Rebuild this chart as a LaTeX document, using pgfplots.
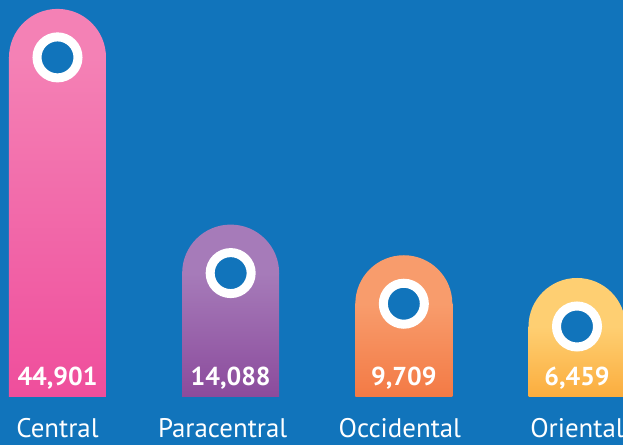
\documentclass[border=0pt]{standalone}
\usepackage{pgfplots}
\pgfplotsset{compat=1.18}
\usepackage{fontspec}
\setmainfont{PT Sans}

\definecolor{bg}{RGB}{17,116,187}
\definecolor{pinkT}{HTML}{F481B5}
\definecolor{pinkB}{HTML}{EF4E9C}
\definecolor{purpT}{HTML}{A67BB9}
\definecolor{purpB}{HTML}{8B4B9C}
\definecolor{orT}{HTML}{F89C6C}
\definecolor{orB}{HTML}{F37A45}
\definecolor{yelT}{HTML}{FECF72}
\definecolor{yelB}{HTML}{FBAD3E}

% upper half disc, filled only (the rounded top of each bar)
\pgfdeclareplotmark{topcap}{%
  \pgfpathmoveto{\pgfqpoint{\pgfplotmarksize}{-0.6pt}}%
  \pgfpathlineto{\pgfqpoint{\pgfplotmarksize}{0pt}}%
  \pgfpatharc{0}{180}{\pgfplotmarksize}%
  \pgfpathlineto{\pgfqpoint{-\pgfplotmarksize}{-0.6pt}}%
  \pgfpathclose
  \pgfusepathqfill
}

% bars start from a baseline offset (10543) and the cap (radius 6929) sits on the rectangle
\pgfplotsset{
  capbar/.style n args={2}{ybar, bar width=97bp, bar shift=0pt, draw=none,
    top color=#1, bottom color=#2, y filter/.expression={y+3614}},
  cap/.style={only marks, mark=topcap, mark size=48.5bp,
    mark options={fill=#1}, y filter/.expression={y+3614}},
  ring/.style={only marks, mark=*, mark size=20.5bp,
    mark options={draw=white, fill=bg, line width=9bp}, y filter/.expression={y+3614}},
}

\begin{document}
\begin{tikzpicture}
\useasboundingbox (0,0) rectangle (623bp,445bp);
\clip (0,0) rectangle (623bp,445bp);
\fill[bg] (0,0) rectangle (623bp,445bp);
\begin{axis}[
  at={(0bp,48bp)}, anchor=south west,
  scale only axis, width=623bp, height=397bp,
  xmin=-0.332, xmax=3.2656,
  ymin=0, ymax=56714,
  clip=false,
  axis line style={draw=none},
  major tick length=0pt,
  ytick=\empty,
  xtick={0,1,2,3},
  xticklabels={Central,{\kern-16bp Paracentral},{\kern-8bp Occidental},Oriental},
  xticklabel style={font=\fontsize{27}{27}\selectfont, text=white,
    anchor=base, inner sep=0pt, yshift=-40.5bp},
  /pgf/number format/assume math mode=true,
  /pgf/number format/1000 sep={,},
]

% bars: Central, Paracentral, Occidental, Oriental
\addplot[capbar={pinkT}{pinkB}] coordinates {(0,44901)};
\addplot[cap=pinkT] coordinates {(0,44901)};
\addplot[capbar={purpT}{purpB}] coordinates {(1,14088)};
\addplot[cap=purpT] coordinates {(1,14088)};
\addplot[capbar={orT}{orB}] coordinates {(2,9709)};
\addplot[cap=orT] coordinates {(2,9709)};
\addplot[capbar={yelT}{yelB}] coordinates {(3,6459)};
\addplot[cap=yelT] coordinates {(3,6459)};

% white rings
\addplot[ring] coordinates {(0,44901) (1,14088) (2,9709) (3,6459)};

% value labels at the foot of each bar
\addplot[draw=none, mark=none, point meta=rawy, y filter/.expression={1714},
  nodes near coords,
  every node near coord/.append style={anchor=base, text=white,
    font=\fontsize{26}{26}\selectfont\bfseries, inner sep=0pt}]
  coordinates {(0,44901) (1,14088) (2,9709) (3,6459)};

\end{axis}
\end{tikzpicture}
\end{document}
